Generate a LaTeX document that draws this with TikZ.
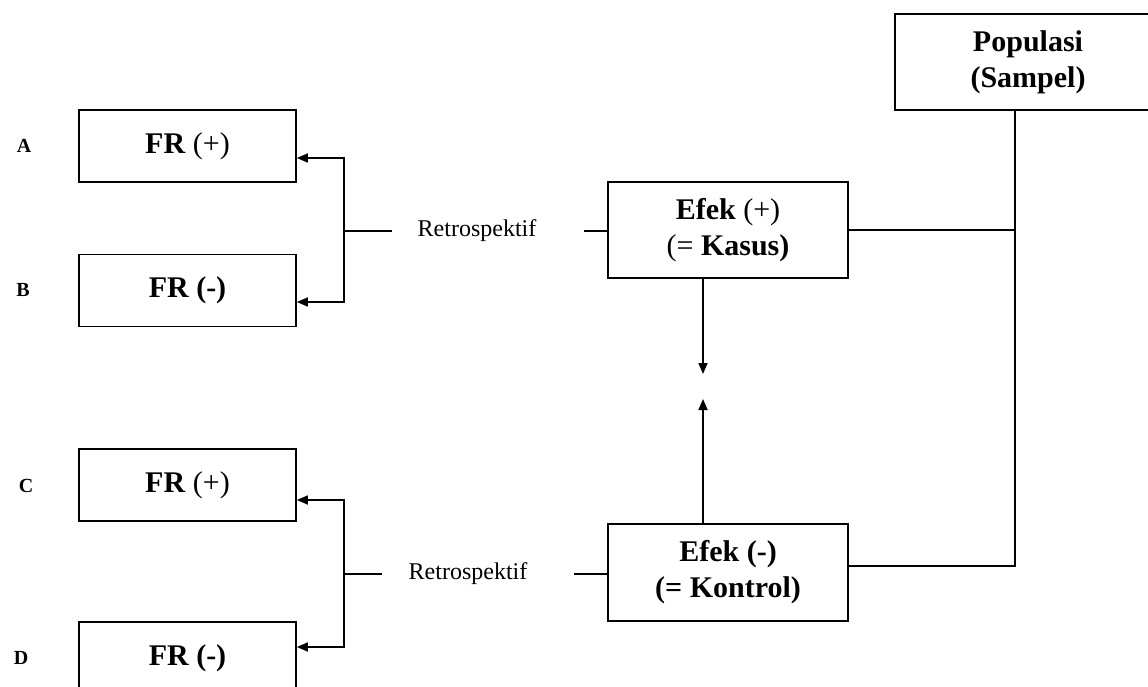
\documentclass[tikz,border=0pt]{standalone}
\usepackage{fontspec}
\setmainfont{Liberation Serif}
\usetikzlibrary{arrows.meta}
\begin{document}
\begin{tikzpicture}[x=1pt,y=-1pt,
  box/.style={draw,line width=1.7pt,minimum width=217pt,minimum height=72pt,inner sep=0pt,font=\fontsize{30}{36}\selectfont,align=center},
  ebox/.style={box,minimum width=240pt,minimum height=96pt},
  lbl/.style={font=\fontsize{20}{24}\selectfont\bfseries},
  retro/.style={font=\fontsize{24}{28}\selectfont,inner sep=0pt},
  ln/.style={line width=1.7pt},
  arr/.style={ln,-{Triangle[length=11pt,width=9pt]}}]
\useasboundingbox (0,0) rectangle (1148,687);
\clip (0,0) rectangle (1148,687);
% left boxes
\node[box] (A) at (187.5,146) {\textbf{FR} (+)};
\node[box] (B) at (187.5,290.5) {\textbf{FR (-)}};
\node[box] (C) at (187.5,485) {\textbf{FR} (+)};
\node[box] (D) at (187.5,658) {\textbf{FR (-)}};
\node[lbl] (la) at (24,146) {A};
\node[lbl] (lb) at (23,290) {B};
\node[lbl] (lc) at (26,486) {C};
\node[lbl] (ld) at (21,658) {D};
% effect boxes
\node[ebox] (efekP) at (728,230) {\textbf{Efek} (+)\\(= \textbf{Kasus)}};
\node[ebox,minimum height=97pt] (efekN) at (728,572.5) {\textbf{Efek (-)}\\\textbf{(= Kontrol)}};
\node[box,minimum width=266pt,minimum height=96pt] (pop) at (1028,62) {\textbf{Populasi}\\\textbf{(Sampel)}};
% retrospektif labels
\node[retro] (retA) at (477,231) {Retrospektif};
\node[retro] (retC) at (468,574) {Retrospektif};
\coordinate (retAl) at (392,231);
\coordinate (retAr) at (584,231);
\coordinate (retCl) at (382,574);
\coordinate (retCr) at (574,574);
\coordinate (jA) at (344,231);
\coordinate (jC) at (344,574);
% upper connectors
\draw[ln] (retAl) -- (jA);
\draw[ln] (retAr) -- (efekP.west |- retAr);
\draw[arr] (jA) |- ([yshift=-12pt]A.east);
\draw[arr] (jA) |- ([yshift=-11.5pt]B.east);
% lower connectors
\draw[ln] (retCl) -- (jC);
\draw[ln] (retCr) -- (efekN.west |- retCr);
\draw[arr] (jC) |- ([yshift=-15pt]C.east);
\draw[arr] (jC) |- ([yshift=11pt]D.east);
% vertical arrows between effects
\coordinate (midP) at (703,374);
\coordinate (midN) at (703,399);
\draw[arr] ([xshift=-25pt]efekP.south) -- (midP);
\draw[arr] ([xshift=-25pt]efekN.north) -- (midN);
% population links
\coordinate (popB) at ([xshift=-13pt]pop.south);
\draw[ln] (efekN.east |- 0,566) -| (popB);
\draw[ln] (efekP.east) -- (efekP.east -| popB);
\end{tikzpicture}
\end{document}
